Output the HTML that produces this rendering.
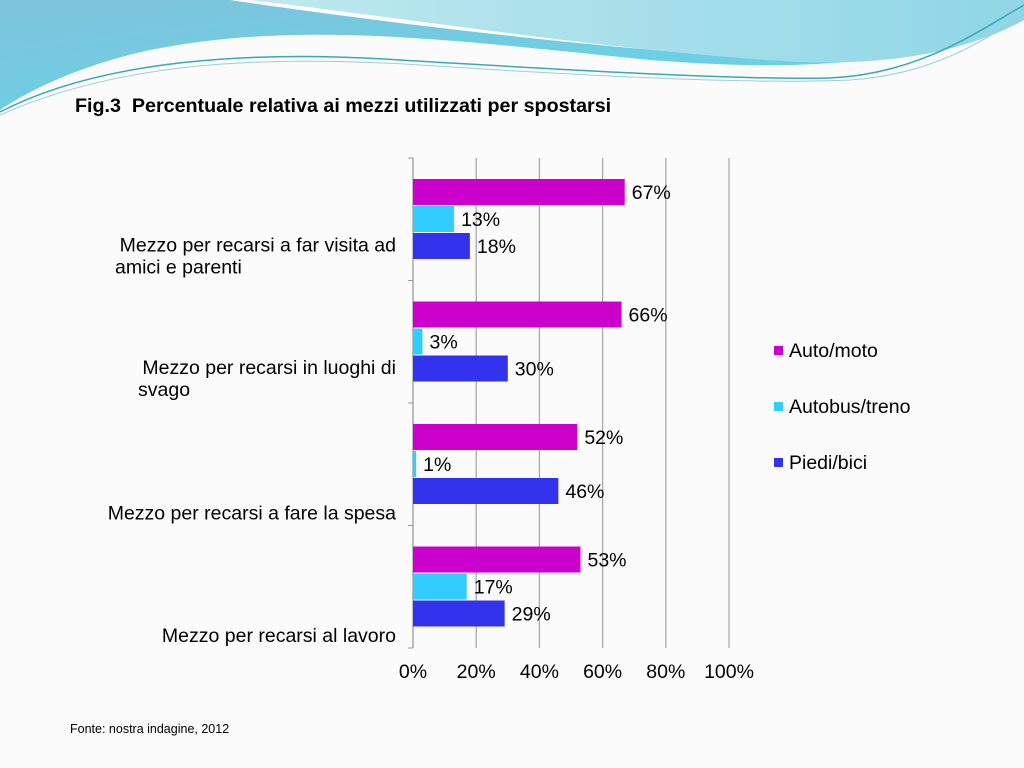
<!DOCTYPE html>
<html><head><meta charset="utf-8"><style>
body{margin:0;width:1024px;height:768px;overflow:hidden;background:#fbfbfb;font-family:"Liberation Sans",sans-serif;position:relative}
.t{position:absolute;font-size:17px;color:#000}
</style></head><body>
<svg width="1024" height="130" style="position:absolute;left:0;top:0">
<defs><linearGradient id="g1" x1="0" y1="0" x2="1" y2="1"><stop offset="0" stop-color="#7fc3db"/><stop offset="1" stop-color="#5fd8ea"/></linearGradient>
<linearGradient id="g2" x1="0" y1="0" x2="1" y2="0"><stop offset="0" stop-color="#bfe9ee"/><stop offset="1" stop-color="#8fd6e6"/></linearGradient></defs>
<path d="M0,0 H1024 V20 C900,70 780,70 650,60 C450,40 300,20 150,50 C80,65 30,90 0,110 Z" fill="url(#g1)"/>
<path d="M230,0 H1024 V10 C950,55 860,65 780,60 C600,48 400,25 230,0 Z" fill="#ffffff"/>
<path d="M250,0 H1024 V20 C960,55 880,65 800,62 C620,52 420,20 250,0 Z" fill="url(#g2)"/>
<path d="M0,112 C100,60 250,50 400,60 C600,72 750,80 830,78 C920,74 980,30 1024,5" stroke="#3aa8b8" stroke-width="1.5" fill="none"/>
<path d="M0,115 C120,62 260,55 420,65 C620,78 760,84 850,80 C940,74 990,35 1024,15" stroke="#9ccfd8" stroke-width="1" fill="none"/>
</svg>
<div class="t" style="left:75px;top:95px;font-weight:bold;font-size:19.7px">Fig.3&nbsp; Percentuale relativa ai mezzi utilizzati per spostarsi</div>
<svg id="c" width="1024" height="768" style="position:absolute;left:0;top:0"></svg>
<div class="t" style="left:70px;top:722px;font-size:12.5px">Fonte: nostra indagine, 2012</div>
<script>
const categories=["Mezzo per recarsi a far visita ad amici e parenti","Mezzo per recarsi in luoghi di svago","Mezzo per recarsi a fare la spesa","Mezzo per recarsi al lavoro"];
const catLines=[["Mezzo per recarsi a far visita ad","amici e parenti"],["Mezzo per recarsi in luoghi di","svago"],["Mezzo per recarsi a fare la spesa"],["Mezzo per recarsi al lavoro"]];
const seriesNames=["Auto/moto","Autobus/treno","Piedi/bici"];
const auto=[67,66,52,53];
const bus=[13,3,1,17];
const piedi=[18,30,46,29];
const ticks=[0,20,40,60,80,100];
const colors=["#cc00cc","#33ccff","#3333ee"];
const svg=document.getElementById('c');const NS="http://www.w3.org/2000/svg";
const x0=413,x1=729,y0=158,y1=648;
const FS=19.5;
const xs=v=>x0+(x1-x0)*v/100;
const gh=(y1-y0)/categories.length;
function mk(t,a,txt){const e=document.createElementNS(NS,t);for(const k in a)e.setAttribute(k,a[k]);if(txt!=null)e.textContent=txt;svg.appendChild(e);return e;}
ticks.forEach(t=>{
const l=mk('line',{x1:xs(t),x2:xs(t),y1:y0,y2:y1,stroke:t==0?'#999':'#aaa','stroke-width':1.3});


const tx=mk('text',{x:xs(t),y:y1+30,'text-anchor':'middle','font-size':FS,'font-family':'Liberation Sans'},t+'%');


});
for(let i=0;i<=categories.length;i++){mk('line',{x1:x0-5,x2:x0,y1:y0+gh*i,y2:y0+gh*i,stroke:'#999'});}
const series=[auto,bus,piedi];
const bh=27;
categories.forEach((c,i)=>{
const gy=y0+gh*i+21;
series.forEach((s,j)=>{
const r=mk('rect',{x:x0,y:gy+j*bh,width:xs(s[i])-x0,height:bh-1,fill:colors[j]});


const v=mk('text',{x:xs(s[i])+7,y:gy+j*bh+20,'font-size':FS,'font-family':'Liberation Sans'},s[i]+'%');


});
const lines=catLines[i];const cy=y0+gh*i+gh/2;
const baseY=lines.length==2?cy+32:cy+55;
lines.forEach((ln,k)=>{
const tx=mk('text',{x:396,y:baseY+k*22,'text-anchor':'end','font-size':FS,'font-family':'Liberation Sans'},ln);
if(lines.length==2&&k==1){tx.setAttribute('text-anchor','start');tx.setAttribute('x',i==0?115:138);}


});
});
seriesNames.forEach((n,j)=>{
const y=352+j*56;
const r=mk('rect',{x:774,y:y-6,width:9,height:9,fill:colors[j]});


const t=mk('text',{x:789,y:y+5,'font-size':FS,'font-family':'Liberation Sans'},n);


});
</script>
</body></html>
